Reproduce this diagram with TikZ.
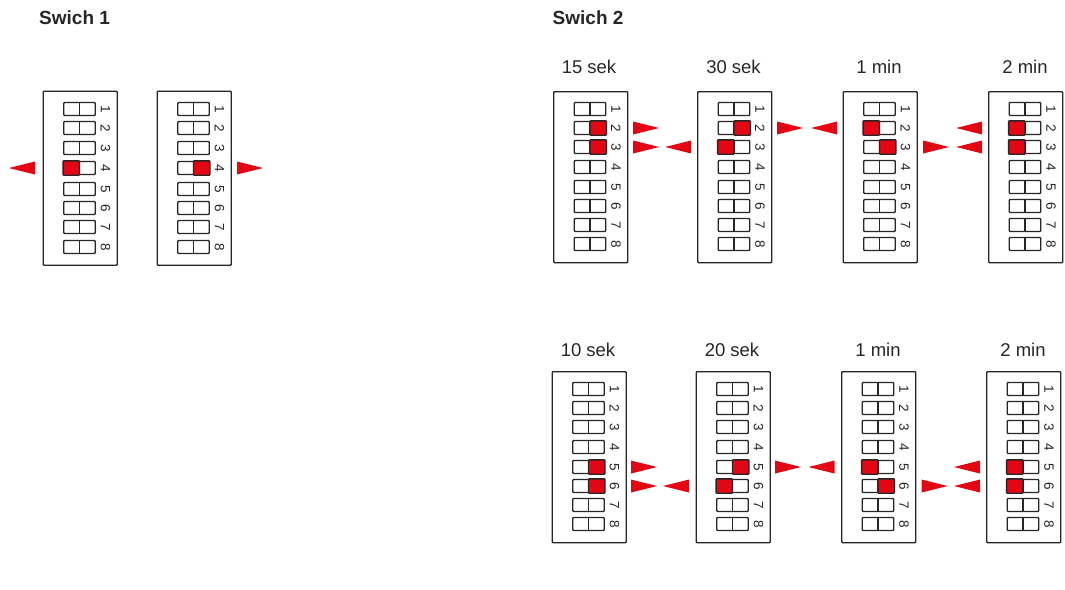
\documentclass[tikz,border=0pt]{standalone}
\usepackage{fontspec}
\setmainfont{Liberation Sans}
\usetikzlibrary{calc}
\definecolor{dipred}{HTML}{E30613}
\definecolor{ink}{HTML}{262626}
\tikzset{
  x=1pt,y=-1pt,
  panelbox/.style={draw=ink,line width=1.4pt,rounded corners=0.8pt,fill=white,minimum width=74pt,anchor=north west,inner sep=0pt},
  cellbox/.style={draw=ink,line width=1.4pt,rounded corners=0.8pt,minimum width=31.5pt,minimum height=13pt,inner sep=0pt},
  celldiv/.style={draw=ink,line width=1.4pt},
  cellred/.style={draw=ink,line width=1.4pt,fill=dipred,rounded corners=0.8pt},
  numlabel/.style={font=\fontsize{13.5}{13.5}\selectfont,rotate=-90,text=ink,inner sep=0pt},
  timelabel/.style={font=\fontsize{18.5}{18.5}\selectfont,text=ink,inner sep=0pt},
  headlabel/.style={font=\bfseries\fontsize{19}{19}\selectfont,text=ink,inner sep=0pt,anchor=west},
  tri/.style={fill=dipred,draw=none}
}
\newcommand{\dipunit}[5]{%
  \node[panelbox,minimum height=#4pt] (#1) at (#2,#3) {};
  \foreach \r/\o in #5{
    \node[cellbox] (#1-c\r) at ($(#1.north west)+(37,\o)$) {};
    \draw[celldiv] (#1-c\r.north) -- (#1-c\r.south);
    \node[numlabel] (#1-n\r) at ($(#1-c\r.east)+(9.5,0)$) {\r};
  }%
}
\newcommand{\redleft}[2]{\draw[cellred] (#1-c#2.north west) rectangle (#1-c#2.south);}
\newcommand{\redright}[2]{\draw[cellred] (#1-c#2.north) rectangle (#1-c#2.south east);}
\newcommand{\arrR}[2]{\fill[tri] (#1,0 |- #2.center) ++(0,-6.5) -- ++(26,6.5) -- ++(-26,6.5) -- cycle;}
\newcommand{\arrL}[2]{\fill[tri] (#1,0 |- #2.center) ++(0,-6.5) -- ++(-26,6.5) -- ++(26,6.5) -- cycle;}
\newcommand{\rowsA}{1/18.5,2/37.5,3/57.5,4/77.5,5/98.5,6/117.5,7/136.5,8/156.5}
\newcommand{\rowsB}{1/18,2/37,3/56,4/76,5/96,6/115,7/134,8/153}
\begin{document}
\begin{tikzpicture}
\useasboundingbox (0,0) rectangle (1065,589);
\node[headlabel] (h1) at (39,17.5) {Swich 1};
\node[headlabel] (h2) at (552.5,17.5) {Swich 2};
% Swich 1
\dipunit{a}{42.5}{90.5}{174}{\rowsA}
\dipunit{b}{156.5}{90.5}{174}{\rowsA}
\redleft{a}{4}
\redright{b}{4}
\arrL{35}{a-c4}
\arrR{237}{b-c4}
% Swich 2 top
\dipunit{t1}{553}{91}{171}{\rowsB}
\dipunit{t2}{697}{91}{171}{\rowsB}
\dipunit{t3}{842.5}{91}{171}{\rowsB}
\dipunit{t4}{988}{91}{171}{\rowsB}
\node[timelabel] (tt1) at (589,67) {15 sek};
\node[timelabel] (tt2) at (733.5,67) {30 sek};
\node[timelabel] (tt3) at (879,67) {1 min};
\node[timelabel] (tt4) at (1025,67) {2 min};
\redright{t1}{2}\redright{t1}{3}
\redright{t2}{2}\redleft{t2}{3}
\redleft{t3}{2}\redright{t3}{3}
\redleft{t4}{2}\redleft{t4}{3}
\arrR{633}{t1-c2}\arrR{633}{t1-c3}
\arrL{691}{t1-c3}
\arrR{777}{t2-c2}
\arrL{837}{t3-c2}
\arrR{923}{t3-c3}
\arrL{982}{t4-c2}\arrL{982}{t4-c3}
% Swich 2 bottom
\dipunit{u1}{551.5}{371}{171}{\rowsB}
\dipunit{u2}{695.5}{371}{171}{\rowsB}
\dipunit{u3}{841}{371}{171}{\rowsB}
\dipunit{u4}{986}{371}{171}{\rowsB}
\node[timelabel] (ut1) at (588,350) {10 sek};
\node[timelabel] (ut2) at (732,350) {20 sek};
\node[timelabel] (ut3) at (878,350) {1 min};
\node[timelabel] (ut4) at (1023,350) {2 min};
\redright{u1}{5}\redright{u1}{6}
\redright{u2}{5}\redleft{u2}{6}
\redleft{u3}{5}\redright{u3}{6}
\redleft{u4}{5}\redleft{u4}{6}
\arrR{631}{u1-c5}\arrR{631}{u1-c6}
\arrL{689}{u1-c6}
\arrR{775}{u2-c5}
\arrL{834.5}{u3-c5}
\arrR{921.5}{u3-c6}
\arrL{980}{u4-c5}\arrL{980}{u4-c6}
\end{tikzpicture}
\end{document}
